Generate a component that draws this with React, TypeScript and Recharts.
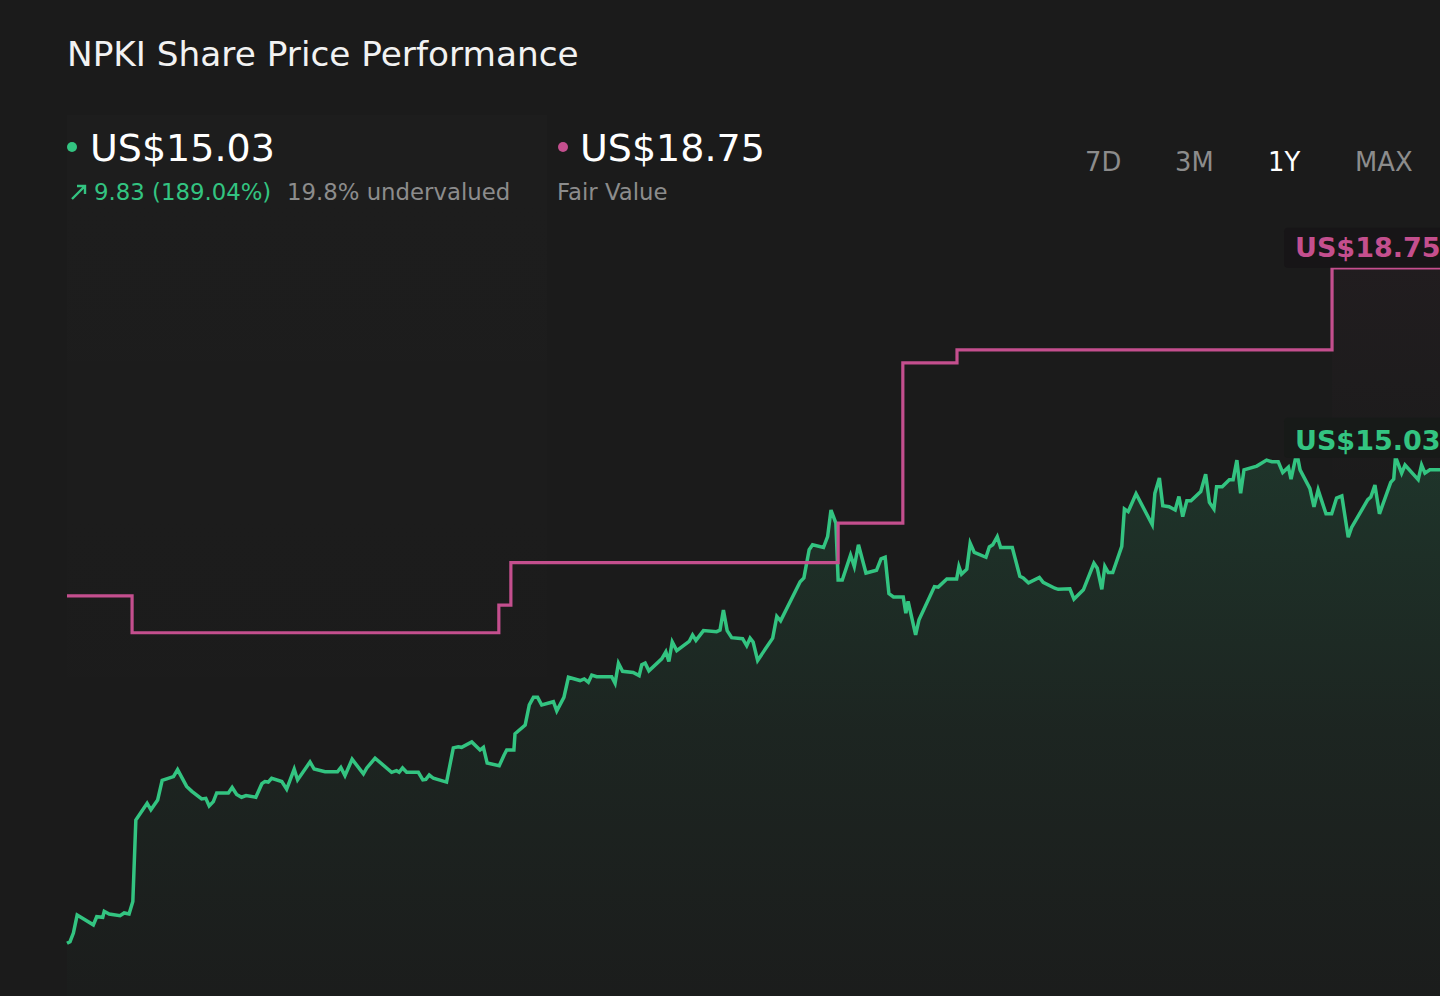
import React from "react";
import {
  ComposedChart,
  Area,
  Line,
  XAxis,
  YAxis,
  ReferenceDot,
  ReferenceArea,
} from "recharts";

// ---- data (x = days since start of the 1Y window) ----
const priceDays = [
  0, 0.8, 1.7, 2.7, 7.0, 7.9, 9.5, 9.9, 11.2, 14.1, 15.2, 16.5, 17.5, 18.3, 21.3, 22.3, 24.1, 25.3, 28.3, 29.4,
  31.8, 33.2, 35.8, 36.9, 37.8, 38.9, 39.8, 42.9, 43.9, 45.1, 46.4, 47.6, 50.2, 51.8, 52.6, 53.5, 54.4, 57.1, 58.4, 60.4,
  61.3, 64.6, 65.7, 68.6, 71.9, 72.8, 73.9, 75.8, 78.8, 79.7, 81.9, 86.3, 87.6, 88.3, 89.2, 90.3, 93.4, 94.6, 95.4, 96.3,
  97.4, 100.9, 102.7, 104.0, 104.9, 107.6, 109.8, 110.7, 111.7, 114.9, 116.2, 116.9, 118.8, 119.1, 121.8, 122.9, 124.0, 125.1, 126.2, 129.3,
  130.2, 132.1, 133.3, 136.4, 137.5, 138.6, 139.5, 140.8, 144.8, 145.7, 146.6, 147.7, 150.5, 152.1, 152.8, 153.7, 154.7, 158.1, 159.2, 160.0,
  160.9, 162.1, 165.4, 166.3, 167.2, 169.2, 172.7, 173.6, 174.5, 175.5, 176.7, 179.6, 180.7, 181.6, 182.4, 183.6, 187.6, 188.7, 189.7, 194.9,
  195.9, 197.3, 198.2, 201.1, 202.2, 203.1, 204.4, 205.0, 206.1, 208.3, 209.3, 210.4, 212.4, 215.2, 216.4, 217.5, 218.5, 219.7, 222.3, 223.0,
  223.6, 225.6, 226.5, 230.6, 231.6, 233.9, 236.5, 237.1, 237.8, 239.2, 240.1, 241.2, 244.3, 245.2, 246.1, 247.3, 248.2, 251.3, 253.3, 254.2,
  255.6, 258.5, 259.5, 262.6, 263.5, 266.6, 267.7, 270.2, 273.0, 273.9, 275.1, 275.9, 276.8, 278.0, 280.4, 281.1, 282.1, 284.2, 288.5, 289.2,
  290.4, 291.3, 293.0, 294.6, 295.6, 296.6, 297.7, 298.8, 301.4, 302.7, 303.7, 304.9, 305.6, 307.1, 309.0, 310.0, 311.0, 312.0, 312.9, 316.3,
  318.9, 320.3, 322.0, 323.2, 324.7, 325.4, 326.5, 327.3, 327.8, 330.4, 331.5, 332.6, 334.7, 336.2, 337.5, 338.9, 340.6, 341.5, 345.8, 346.6,
  347.7, 348.9, 351.9, 352.7, 353.1, 353.5, 354.8, 355.7, 359.2, 360.1, 361.0, 362.3, 365.0,
];
const priceValues = [
  6.31, 6.34, 6.5, 6.83, 6.65, 6.8, 6.79, 6.9, 6.85, 6.82, 6.87, 6.85, 7.08, 8.58, 8.89, 8.77, 8.95, 9.31, 9.38, 9.51,
  9.2, 9.11, 8.97, 8.98, 8.84, 8.92, 9.08, 9.08, 9.18, 9.05, 9.0, 9.03, 9.0, 9.25, 9.29, 9.28, 9.35, 9.29, 9.15, 9.52,
  9.32, 9.65, 9.52, 9.47, 9.47, 9.55, 9.4, 9.7, 9.43, 9.54, 9.72, 9.46, 9.49, 9.46, 9.54, 9.46, 9.46, 9.32, 9.33, 9.41,
  9.35, 9.28, 9.91, 9.93, 9.92, 10.02, 9.87, 9.92, 9.63, 9.58, 9.78, 9.87, 9.87, 10.17, 10.33, 10.7, 10.84, 10.84, 10.7, 10.76,
  10.59, 10.84, 11.21, 11.15, 11.18, 11.12, 11.25, 11.22, 11.22, 11.1, 11.47, 11.32, 11.3, 11.24, 11.44, 11.47, 11.33, 11.55, 11.68, 11.5,
  11.86, 11.7, 11.87, 11.99, 11.89, 12.07, 12.05, 12.08, 12.45, 12.07, 11.94, 11.92, 11.79, 11.93, 11.86, 11.52, 11.93, 12.33, 12.25, 12.97,
  13.04, 13.56, 13.65, 13.6, 13.8, 14.29, 14.05, 13.0, 13.0, 13.46, 13.25, 13.65, 13.13, 13.18, 13.39, 13.42, 12.75, 12.69, 12.69, 12.39,
  12.61, 11.99, 12.27, 12.88, 12.87, 13.02, 13.02, 13.25, 13.11, 13.2, 13.68, 13.51, 13.42, 13.61, 13.65, 13.8, 13.6, 13.6, 13.07, 13.04,
  12.95, 13.05, 12.96, 12.85, 12.83, 12.84, 12.65, 12.82, 13.31, 13.22, 12.83, 13.25, 13.14, 13.14, 13.62, 14.31, 14.26, 14.59, 14.02, 14.6,
  14.88, 14.37, 14.35, 14.29, 14.54, 14.17, 14.46, 14.46, 14.63, 14.95, 14.43, 14.31, 14.72, 14.72, 14.85, 14.85, 15.21, 14.6, 15.03, 15.1,
  15.21, 15.18, 15.18, 14.98, 15.08, 14.86, 15.21, 15.21, 15.03, 14.69, 14.35, 14.66, 14.22, 14.22, 14.51, 14.55, 13.79, 13.97, 14.48, 14.53,
  14.75, 14.22, 14.8, 14.86, 15.21, 15.21, 14.97, 15.12, 14.85, 15.12, 14.97, 15.03, 15.03,
];

const fairDays = [0, 17.3, 114.8, 118.0, 205.0, 222.2, 236.6, 336.3, 365];
const fairValues = [12.71, 12.03, 12.54, 13.32, 14.05, 17.0, 17.24, 18.75, 18.75];

const lastPrice = 15.03;
const lastFair = 18.75;
const rangeLabels = ["7D", "3M", "1Y", "MAX"];

const priceData = priceDays.map((d, i) => ({ day: d, price: priceValues[i] }));
const fairData = fairDays.map((d, i) => ({ day: d, fair: fairValues[i] }));

const BG = "#1b1b1b";
const GREEN = "#33c481";
const PINK = "#c44f8e";
const GRAY = "#8c8c8c";
const FONT = "'DejaVu Sans', sans-serif";

const makeEndLabel =
  (text: string, color: string, bg: string, boxTop: number, textOff: number) =>
  (props: any) => {
    const { cx, cy } = props;
    if (cx == null || cy == null) return <g />;
    return (
      <g>
        <rect x={cx - 156} y={cy + boxTop} width={190} height={40} rx={4} fill={bg} />
        <text
          x={cx - 145}
          y={cy + textOff}
          fill={color}
          fontSize={27}
          fontWeight="bold"
          fontFamily={FONT}
        >
          {text}
        </text>
      </g>
    );
  };

export default function App() {
  const rangeX = [1085, 1175, 1268, 1355];
  return (
    <div
      style={{
        position: "relative",
        width: 1440,
        height: 996,
        overflow: "hidden",
        background: BG,
        fontFamily: FONT,
      }}
    >
      <style>{`html,body{margin:0;padding:0;background:${BG};overflow:hidden}`}</style>
      {/* faint backdrop panel */}
      <svg width={1440} height={996} style={{ position: "absolute", left: 0, top: 0 }}>
        <defs>
          <linearGradient id="panelFade" x1="0" y1="0" x2="0" y2="1">
            <stop offset="0%" stopColor="#ffffff" stopOpacity={0.01} />
            <stop offset="100%" stopColor="#ffffff" stopOpacity={0} />
          </linearGradient>
        </defs>
        <rect x={67} y={115} width={480} height={720} fill="url(#panelFade)" />
      </svg>
      <div style={{ position: "absolute", left: 0, top: 0 }}>
        <ComposedChart
          width={1480}
          height={996}
          data={priceData}
          margin={{ top: 200, right: 40, bottom: 0, left: 67 }}
        >
          <defs>
            <linearGradient id="priceFill" x1="0" y1="0" x2="0" y2="1">
              <stop offset="0%" stopColor={GREEN} stopOpacity={0.15} />
              <stop offset="50%" stopColor={GREEN} stopOpacity={0.06} />
              <stop offset="100%" stopColor={GREEN} stopOpacity={0.01} />
            </linearGradient>
            <linearGradient id="fairFill" x1="0" y1="0" x2="0" y2="1">
              <stop offset="0%" stopColor={PINK} stopOpacity={0.035} />
              <stop offset="100%" stopColor={PINK} stopOpacity={0} />
            </linearGradient>
          </defs>
          <XAxis dataKey="day" type="number" domain={[0, 365]} hide />
          <YAxis type="number" domain={[5.34, 20]} hide />
          <ReferenceArea
            x1={336.3}
            x2={365}
            y1={14.6}
            y2={lastFair}
            fill="url(#fairFill)"
            fillOpacity={1}
            stroke="none"
            ifOverflow="visible"
          />
          <Area
            type="linear"
            dataKey="price"
            stroke={GREEN}
            strokeWidth={3.5}
            fill="url(#priceFill)"
            fillOpacity={1}
            isAnimationActive={false}
            dot={false}
            activeDot={false}
          />
          <Line
            data={fairData}
            type="stepAfter"
            dataKey="fair"
            stroke={PINK}
            strokeWidth={3.2}
            dot={false}
            activeDot={false}
            isAnimationActive={false}
          />
          <ReferenceDot
            x={365}
            y={lastFair}
            r={0}
            ifOverflow="visible"
            shape={makeEndLabel("US$18.75", PINK, "#171517", -40, -11)}
          />
          <ReferenceDot
            x={365}
            y={lastPrice}
            r={0}
            ifOverflow="visible"
            shape={makeEndLabel("US$15.03", GREEN, "#171a18", -52, -20)}
          />
        </ComposedChart>
      </div>
      {/* header */}
      <svg
        width={1440}
        height={215}
        style={{ position: "absolute", left: 0, top: 0, pointerEvents: "none" }}
      >
        <text x={67} y={66} fill="#f2f2f2" fontSize={34.3} fontFamily={FONT}>
          NPKI Share Price Performance
        </text>
        <circle cx={72} cy={147} r={5} fill={GREEN} />
        <text x={90} y={161} fill="#ffffff" fontSize={38} fontFamily={FONT}>
          US$15.03
        </text>
        <path d="M72 199 L85 186 M77 186 L85 186 L85 194" stroke={GREEN} strokeWidth={2.4} fill="none" />
        <text x={94} y={200} fill={GREEN} fontSize={22.8} fontFamily={FONT}>
          9.83 (189.04%)
        </text>
        <text x={287} y={200} fill={GRAY} fontSize={22.8} fontFamily={FONT}>
          19.8% undervalued
        </text>
        <circle cx={563} cy={147} r={5} fill={PINK} />
        <text x={580} y={161} fill="#ffffff" fontSize={38} fontFamily={FONT}>
          US$18.75
        </text>
        <text x={557} y={200} fill={GRAY} fontSize={22.8} fontFamily={FONT}>
          Fair Value
        </text>
        {rangeLabels.map((r, i) => (
          <text
            key={r}
            x={rangeX[i]}
            y={171}
            fill={r === "1Y" ? "#ffffff" : GRAY}
            fontSize={25.8}
            fontFamily={FONT}
          >
            {r}
          </text>
        ))}
      </svg>
    </div>
  );
}
